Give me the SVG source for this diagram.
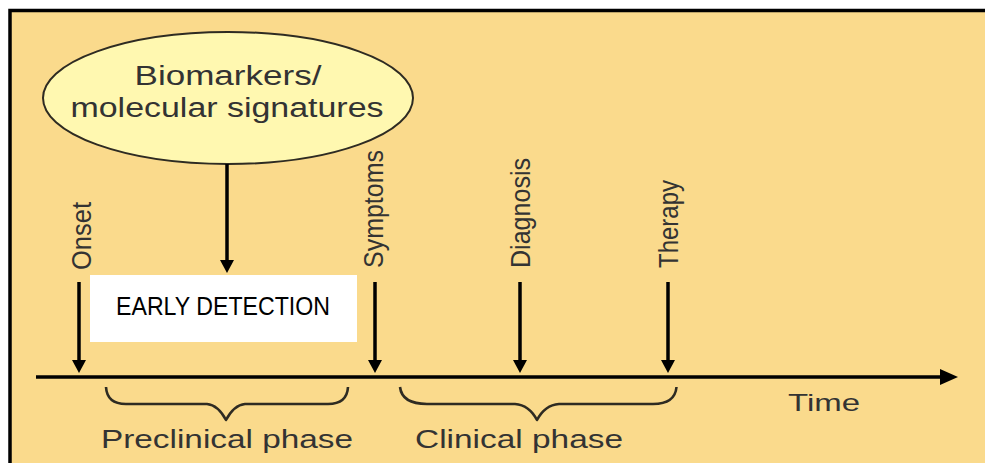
<svg xmlns="http://www.w3.org/2000/svg" width="985" height="463" viewBox="0 0 985 463">
  <style>
    .lbl { font-family: "Liberation Sans", Arial, sans-serif; fill: #333; }
    .conn { stroke: #000; stroke-width: 3.5; fill: none; }
    .brace { stroke: #2e2b22; stroke-width: 2.6; fill: none; stroke-linejoin: round; }
  </style>
  <defs>
    <marker id="ah" markerUnits="userSpaceOnUse" markerWidth="13" markerHeight="14" viewBox="0 0 13 14" refX="2" refY="7" orient="auto">
      <path d="M0,0 L13,7 L0,14 z" fill="#000"/>
    </marker>
    <marker id="ahBig" markerUnits="userSpaceOnUse" markerWidth="18" markerHeight="16" viewBox="0 0 18 16" refX="2" refY="8" orient="auto">
      <path d="M0,0 L18,8 L0,16 z" fill="#000"/>
    </marker>
  </defs>

  <!-- background and frame -->
  <rect x="10" y="10.5" width="975" height="453" fill="#FADA8C"/>
  <path d="M10,463 V10.5 H985" fill="none" stroke="#000" stroke-width="3.5"/>

  <g id="biomarkers">
    <ellipse cx="228" cy="98" rx="185" ry="66" fill="#FFF8B0" stroke="#2e2b22" stroke-width="2"/>
    <text class="lbl" x="228" y="85" font-size="27" text-anchor="middle" textLength="187" lengthAdjust="spacingAndGlyphs">Biomarkers/</text>
    <text class="lbl" x="227" y="117" font-size="27" text-anchor="middle" textLength="313" lengthAdjust="spacingAndGlyphs">molecular signatures</text>
  </g>

  <g id="early-detection">
    <rect x="90" y="275" width="267" height="67" fill="#FFFFFF"/>
    <text x="223" y="315" font-family="'Liberation Sans', Arial, sans-serif" font-size="25" fill="#000" text-anchor="middle" textLength="214" lengthAdjust="spacingAndGlyphs">EARLY DETECTION</text>
  </g>

  <g id="onset">
    <text class="lbl" transform="translate(91,270) rotate(-90)" font-size="27" textLength="68" lengthAdjust="spacingAndGlyphs">Onset</text>
  </g>
  <g id="symptoms">
    <text class="lbl" transform="translate(383,268) rotate(-90)" font-size="27" textLength="118" lengthAdjust="spacingAndGlyphs">Symptoms</text>
  </g>
  <g id="diagnosis">
    <text class="lbl" transform="translate(530,268) rotate(-90)" font-size="27" textLength="110" lengthAdjust="spacingAndGlyphs">Diagnosis</text>
  </g>
  <g id="therapy">
    <text class="lbl" transform="translate(678,268) rotate(-90)" font-size="27" textLength="88" lengthAdjust="spacingAndGlyphs">Therapy</text>
  </g>

  <g id="time-axis">
    <text class="lbl" x="788" y="411" font-size="24" textLength="72" lengthAdjust="spacingAndGlyphs">Time</text>
  </g>

  <g id="preclinical-phase">
    <path class="brace" d="M106,387 Q107,404 126,404 L207,404 Q218,405 226,420 Q234,405 245,404 L328,404 Q347,404 348,387"/>
    <text class="lbl" x="101" y="448" font-size="25" textLength="252" lengthAdjust="spacingAndGlyphs">Preclinical phase</text>
  </g>

  <g id="clinical-phase">
    <path class="brace" d="M400,387 Q402,404 427,404 L515,404 Q529,405 537,420 Q545,405 559,404 L653,404 Q675,404 676.5,387"/>
    <text class="lbl" x="415" y="448" font-size="25" textLength="208" lengthAdjust="spacingAndGlyphs">Clinical phase</text>
  </g>

  <g id="connectors">
    <line class="conn" x1="36" y1="377" x2="942" y2="377" marker-end="url(#ahBig)"/>
    <line class="conn" x1="227" y1="164" x2="227" y2="262" marker-end="url(#ah)"/>
    <line class="conn" x1="79" y1="282" x2="79" y2="362" marker-end="url(#ah)"/>
    <line class="conn" x1="375" y1="282" x2="375" y2="362" marker-end="url(#ah)"/>
    <line class="conn" x1="520" y1="282" x2="520" y2="362" marker-end="url(#ah)"/>
    <line class="conn" x1="668" y1="282" x2="668" y2="362" marker-end="url(#ah)"/>
  </g>
</svg>
